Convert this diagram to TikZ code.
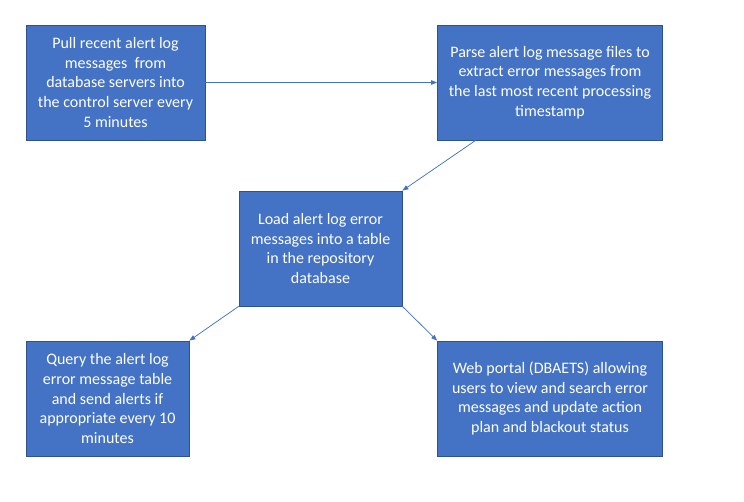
\documentclass[tikz,border=0pt]{standalone}
\usepackage{fontspec}
\setmainfont{Carlito}
\usetikzlibrary{arrows.meta}
\definecolor{boxfill}{HTML}{4472C4}
\definecolor{boxline}{HTML}{2F528F}
\definecolor{arrowcol}{HTML}{4472C4}
\begin{document}
\begin{tikzpicture}[x=1pt,y=-1pt,
  procbox/.style={draw=boxline, line width=0.75pt, fill=boxfill, text=white,
    align=center, inner sep=0pt, font=\fontsize{16}{19.6}\selectfont},
  flow/.style={draw=arrowcol, line width=0.75pt, -{Triangle[length=6pt,width=4.5pt]}}]
\useasboundingbox (0,0) rectangle (744,501);
\node[procbox, minimum width=179pt, minimum height=115pt] (b1) at (115.5,82.5)
  {Pull recent alert log\\messages\ \ from\\database servers into\\the control server every\\5 minutes};
\node[procbox, minimum width=225pt, minimum height=115pt] (b2) at (550,82.5)
  {Parse alert log message files to\\extract error messages from\\the last most recent processing\\timestamp};
\node[procbox, minimum width=163pt, minimum height=115pt] (b3) at (320.5,248.5)
  {Load alert log error\\messages into a table\\in the repository\\database};
\node[procbox, minimum width=163pt, minimum height=115pt] (b4) at (107.5,398.5)
  {Query the alert log\\error message table\\and send alerts if\\appropriate every 10\\minutes};
\node[procbox, minimum width=225pt, minimum height=115pt] (b5) at (550,398.5)
  {Web portal (DBAETS) allowing\\users to view and search error\\messages and update action\\plan and blackout status};
\draw[flow] (b1.east) -- (b2.west);
\draw[flow] ([xshift=38.5pt]b2.south west) -- (b3.north east);
\draw[flow] (b3.south west) -- (b4.north east);
\draw[flow] (b3.south east) -- (b5.north west);
\end{tikzpicture}
\end{document}
